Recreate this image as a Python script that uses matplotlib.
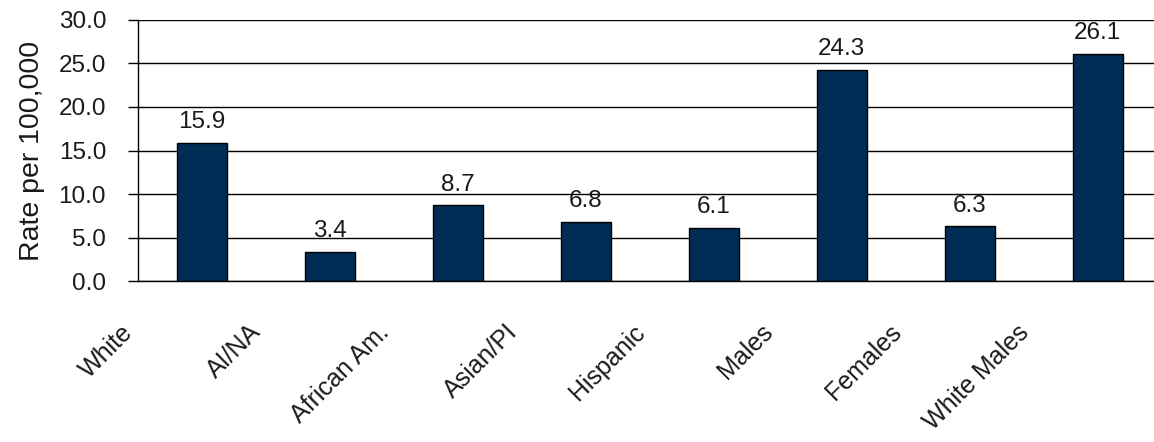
import matplotlib
matplotlib.use("Agg")
import matplotlib.pyplot as plt
import matplotlib.transforms as mtransforms

# ---- data ----
categories = ["White", "AI/NA", "African Am.", "Asian/PI", "Hispanic",
              "Males", "Females", "White Males"]
rates = [15.9, 3.4, 8.7, 6.8, 6.1, 24.3, 6.3, 26.1]
y_ticks = [0, 5, 10, 15, 20, 25, 30]

bar_color = "#002d56"

plt.rcParams["font.family"] = ["Liberation Sans", "DejaVu Sans"]

fig = plt.figure(figsize=(11.54, 4.42), dpi=100)
ax = fig.add_axes([0.1196, 0.364, 0.8804, 0.591])

x = list(range(len(categories)))
bars = ax.bar(x, rates, width=0.39, color=bar_color, edgecolor="black",
              linewidth=1, zorder=3)

# value labels above each bar
for xi, v in zip(x, rates):
    ax.annotate(f"{v:.1f}", (xi, v), xytext=(0, 7), textcoords="offset points",
                ha="center", va="bottom", fontsize=17.5, color="#1a1a1a")

ax.set_xlim(-0.5, 7.44)
ax.set_ylim(0, 30)
ax.set_yticks(y_ticks)
ax.set_yticklabels([f"{t:.1f}" for t in y_ticks], fontsize=17.5, color="#1a1a1a")
ax.yaxis.grid(True, color="black", linewidth=1, zorder=0)
ax.set_axisbelow(True)

ax.tick_params(axis="y", length=7, width=1, pad=16)
ax.tick_params(axis="x", length=0, pad=28)

ax.set_xticks(x)
ax.set_xticklabels(categories, rotation=45, ha="right", va="top",
                   fontsize=18, color="#1a1a1a")
shift = mtransforms.ScaledTranslation(-0.64, 0, fig.dpi_scale_trans)
for lab in ax.get_xticklabels():
    lab.set_transform(lab.get_transform() + shift)

ax.set_ylabel("Rate per 100,000", fontsize=20.5, color="#1a1a1a", labelpad=10)

for side in ["top", "right"]:
    ax.spines[side].set_visible(False)
ax.spines["left"].set_linewidth(1)
ax.spines["bottom"].set_linewidth(1)

fig.savefig("out.png", dpi=100)
